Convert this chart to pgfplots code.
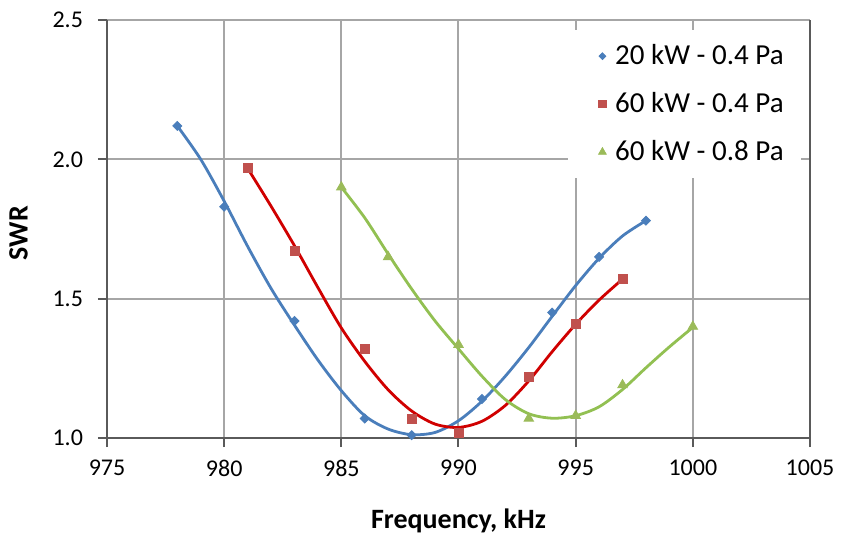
\documentclass[border=0pt]{standalone}
\usepackage{fontspec}
\setmainfont{Carlito}
\usepackage{pgfplots}
\pgfplotsset{compat=1.18}

\definecolor{mkblue}{HTML}{4A7EBB}
\definecolor{mkred}{HTML}{C0504D}
\definecolor{mkgreen}{HTML}{9BBB59}
\definecolor{lnblue}{HTML}{4A7EBB}
\definecolor{lnred}{HTML}{D00000}
\definecolor{lngreen}{HTML}{92C052}
\definecolor{gridgray}{HTML}{A6A6A6}
\definecolor{axisgray}{HTML}{5A5A5A}

\begin{document}
\begin{tikzpicture}
\useasboundingbox (-53.5pt,-49.5pt) rectangle (368pt,219pt);
\begin{axis}[
width=351.5pt,
height=209pt,
at={(0,0)},
anchor=south west,
scale only axis,
xmin=975, xmax=1005,
ymin=1, ymax=2.5,
xtick={975,980,...,1000},
extra x ticks={1005},
extra x tick style={major grid style={axisgray, line width=1pt}},
ytick={1,1.5,2,2.5},
/pgf/number format/assume math mode=true,
xticklabel style={/pgf/number format/1000 sep={}, yshift=-3pt},
yticklabel style={/pgf/number format/fixed, /pgf/number format/fixed zerofill, /pgf/number format/precision=1, xshift=-4pt},
ticklabel style={font=\fontsize{12}{14}\selectfont},
grid=major,
major grid style={gridgray, line width=1pt},
axis x line*=bottom,
axis y line*=left,
axis line style={axisgray, line width=1pt},
tick align=outside,
major tick length=4.5pt,
tick style={axisgray, line width=1pt},
xlabel={\textbf{Frequency, kHz}},
ylabel={\textbf{SWR}},
xlabel style={at={(axis description cs:0.5,-0.1986)}, anchor=center, font=\fontsize{14}{16}\selectfont},
ylabel style={at={(axis description cs:-0.1260,0.49)}, anchor=center, font=\fontsize{14}{16}\selectfont},
legend style={at={(axis description cs:0.6558,0.976)}, anchor=north west, draw=none, fill=white,
  inner xsep=6.5pt, inner ysep=5.1pt, font=\fontsize{14.5}{16}\selectfont,
  /tikz/column sep=2.2pt, /tikz/row sep=8.4pt},
legend cell align=left,
legend image code/.code={\path (-10.3pt,0pt) (2pt,0pt); \draw[#1] plot coordinates {(0pt,0pt)};},
]

% measured points
\addplot[only marks, mark=square*, mark size=1.6pt, mark options={rotate=45}, color=mkblue, forget plot] table {
x y
978 2.12
980 1.83
983 1.42
986 1.07
988 1.01
991 1.14
994 1.45
996 1.65
998 1.78
};
\addplot[only marks, mark=square*, mark size=2.25pt, color=mkred, forget plot] table {
x y
981 1.97
983 1.67
986 1.32
988 1.07
990 1.02
993 1.22
995 1.41
997 1.57
};
\addplot[only marks, mark=triangle*, mark size=2.75pt, color=mkgreen, forget plot] table {
x y
985 1.90
987 1.65
990 1.335
993 1.07
995 1.08
997 1.19
1000 1.40
};

% trend lines
\addplot[lnblue, line width=1.4pt, smooth, forget plot] table {
x y
978 2.120
979 2.000
980 1.850
981 1.688
982 1.537
983 1.405
984 1.280
985 1.170
986 1.080
987 1.032
988 1.012
989 1.020
990 1.062
991 1.132
992 1.222
993 1.325
994 1.437
995 1.547
996 1.645
997 1.725
998 1.780
};
\addplot[lnred, line width=1.4pt, smooth, forget plot] table {
x y
981 1.968
982 1.832
983 1.690
984 1.540
985 1.395
986 1.275
987 1.173
988 1.097
989 1.050
990 1.038
991 1.060
992 1.117
993 1.205
994 1.310
995 1.408
996 1.495
997 1.570
};
\addplot[lngreen, line width=1.4pt, smooth, forget plot] table {
x y
985 1.900
986 1.790
987 1.660
988 1.535
989 1.420
990 1.320
991 1.222
992 1.138
993 1.087
994 1.071
995 1.080
996 1.112
997 1.174
998 1.252
999 1.327
1000 1.397
};

\addlegendimage{only marks, mark=square*, mark size=1.2pt, mark options={rotate=45}, color=mkblue}
\addlegendentry{20 kW - 0.4 Pa}
\addlegendimage{only marks, mark=square*, mark size=1.8pt, color=mkred}
\addlegendentry{60 kW - 0.4 Pa}
\addlegendimage{only marks, mark=triangle*, mark size=2.2pt, color=mkgreen}
\addlegendentry{60 kW - 0.8 Pa}

\end{axis}
\end{tikzpicture}
\end{document}
